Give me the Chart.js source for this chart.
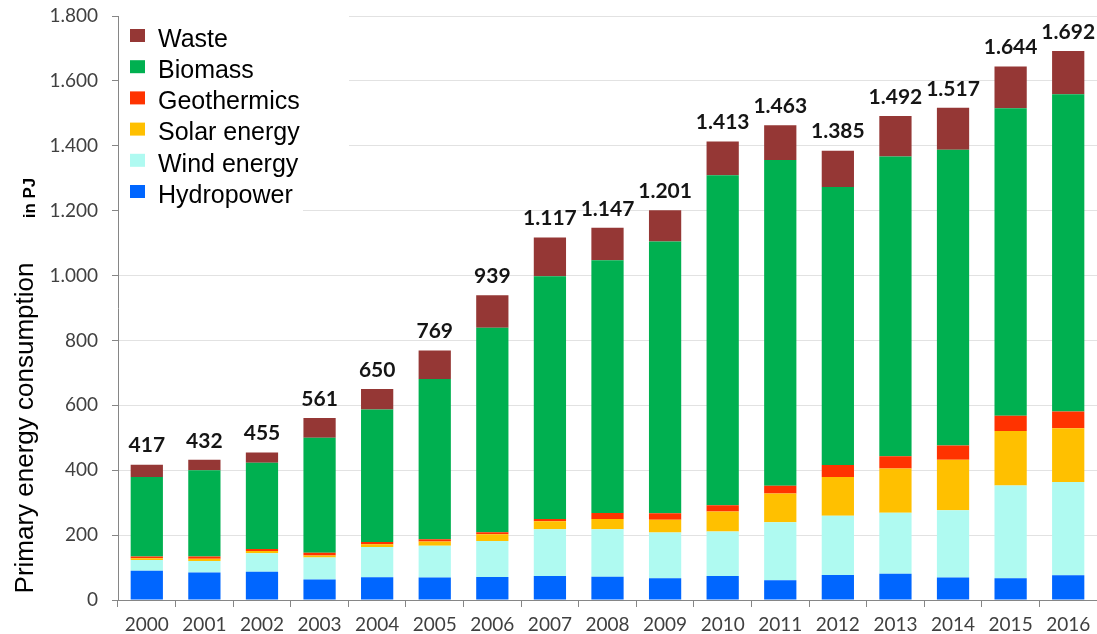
<!DOCTYPE html>
<html>
<head>
<meta charset="utf-8">
<script src="https://cdn.jsdelivr.net/npm/chart.js@4.4.1/dist/chart.umd.min.js"></script>
<style>
html, body { margin: 0; padding: 0; background: #fff; }
#wrap { width: 1097px; height: 634px; position: relative; }
</style>
</head>
<body>
<div id="wrap"><canvas id="chart"></canvas></div>
<script>
// Primary energy consumption from renewables, in PJ
const years   = ['2000','2001','2002','2003','2004','2005','2006','2007','2008','2009','2010','2011','2012','2013','2014','2015','2016'];
const hydro   = [90, 85, 87, 63, 70, 69, 71, 74, 72, 67, 74, 61, 77, 81, 69, 67, 76];
const wind    = [33, 35, 57, 68, 93, 98, 111, 144, 146, 141, 137, 179, 183, 188, 208, 286, 288];
const solar   = [6, 7, 7, 6, 9, 13, 21, 25, 32, 39, 62, 88, 119, 136, 155, 168, 165];
const geo     = [5, 7, 6, 9, 7, 7, 6, 7, 18, 20, 19, 24, 37, 38, 44, 47, 52];
const biomass = [245, 266, 266, 354, 408, 494, 630, 748, 779, 838, 1017, 1004, 857, 924, 912, 948, 978];
const waste   = [38, 32, 32, 61, 63, 88, 100, 119, 100, 96, 104, 107, 112, 125, 129, 128, 133];
const totals  = [417, 432, 455, 561, 650, 769, 939, 1117, 1147, 1201, 1413, 1463, 1385, 1492, 1517, 1644, 1692];

// German style thousands separator: 1.800
const fmt = v => String(v).replace(/\B(?=(\d{3})+(?!\d))/g, '.');

const totalsPlugin = {
    id: 'totals',
    afterDatasetsDraw(chart) {
        const ctx = chart.ctx;
        const meta = chart.getDatasetMeta(chart.data.datasets.length - 1);
        ctx.save();
        ctx.font = 'bold 21px Lato';
        ctx.fillStyle = '#151515';
        ctx.textAlign = 'center';
        ctx.textBaseline = 'middle';
        meta.data.forEach((bar, i) => ctx.fillText(fmt(totals[i]), bar.x, bar.y - 19));
        ctx.restore();
    }
};

const legendPlugin = {
    id: 'boxLegend',
    afterDraw(chart) {
        const ctx = chart.ctx;
        const sets = chart.data.datasets.slice().reverse();
        ctx.save();
        // white legend background hides the gridlines behind it
        ctx.fillStyle = '#fff';
        ctx.fillRect(119, 14, 230, 188);
        ctx.fillRect(119, 202, 184, 12);
        ctx.font = '25px "Liberation Sans"';
        ctx.textBaseline = 'middle';
        sets.forEach((ds, i) => {
            const y = 35 + i * 31.2;
            ctx.fillStyle = ds.backgroundColor;
            ctx.fillRect(130, y - 6, 15, 13);
            ctx.fillStyle = '#000';
            ctx.fillText(ds.label, 158, y + 5);
        });
        ctx.restore();
    }
};

const axisTitlePlugin = {
    id: 'axisTitle',
    afterDraw(chart) {
        const ctx = chart.ctx;
        ctx.save();
        ctx.fillStyle = '#000';
        ctx.textAlign = 'center';
        ctx.translate(33, 428);
        ctx.rotate(-Math.PI / 2);
        ctx.font = '26px "Liberation Sans"';
        ctx.fillText('Primary energy consumption', 0, 0);
        ctx.restore();
        ctx.save();
        ctx.fillStyle = '#000';
        ctx.textAlign = 'center';
        ctx.translate(35, 198);
        ctx.rotate(-Math.PI / 2);
        ctx.font = 'bold 17px "Liberation Sans"';
        ctx.fillText('in PJ', 0, 0);
        ctx.restore();
    }
};

const tickFont = { family: 'Lato', size: 19 };

new Chart(document.getElementById('chart'), {
    type: 'bar',
    data: {
        labels: years,
        datasets: [
            { label: 'Hydropower',   data: hydro,   backgroundColor: '#0066FF' },
            { label: 'Wind energy',  data: wind,    backgroundColor: '#AFFAF1' },
            { label: 'Solar energy', data: solar,   backgroundColor: '#FFC000' },
            { label: 'Geothermics',  data: geo,     backgroundColor: '#FF3300' },
            { label: 'Biomass',      data: biomass, backgroundColor: '#00B050' },
            { label: 'Waste',        data: waste,   backgroundColor: '#953735' }
        ]
    },
    options: {
        responsive: true, maintainAspectRatio: false, animation: false,
        layout: { padding: { top: 16, right: 0, left: 0, bottom: 0 } },
        datasets: { bar: { categoryPercentage: 1, barPercentage: 0.56, borderWidth: 0 } },
        plugins: { legend: { display: false }, tooltip: { enabled: false } },
        scales: {
            x: {
                stacked: true,
                grid: { offset: true, drawOnChartArea: false, color: '#868686', tickLength: 7 },
                border: { color: '#868686' },
                ticks: { color: '#404040', font: tickFont, padding: 6, maxRotation: 0 },
                afterFit: s => { s.height = 34; }
            },
            y: {
                stacked: true, min: 0, max: 1800,
                grid: { color: '#e2e2e2', tickColor: '#868686', tickLength: 6 },
                border: { color: '#868686' },
                ticks: { stepSize: 200, color: '#404040', font: tickFont, padding: 14, callback: v => fmt(v) },
                afterFit: s => { s.width = 118; s.paddingTop = 0; s.paddingBottom = 0; }
            }
        }
    },
    plugins: [totalsPlugin, legendPlugin, axisTitlePlugin]
});
</script>
</body>
</html>
